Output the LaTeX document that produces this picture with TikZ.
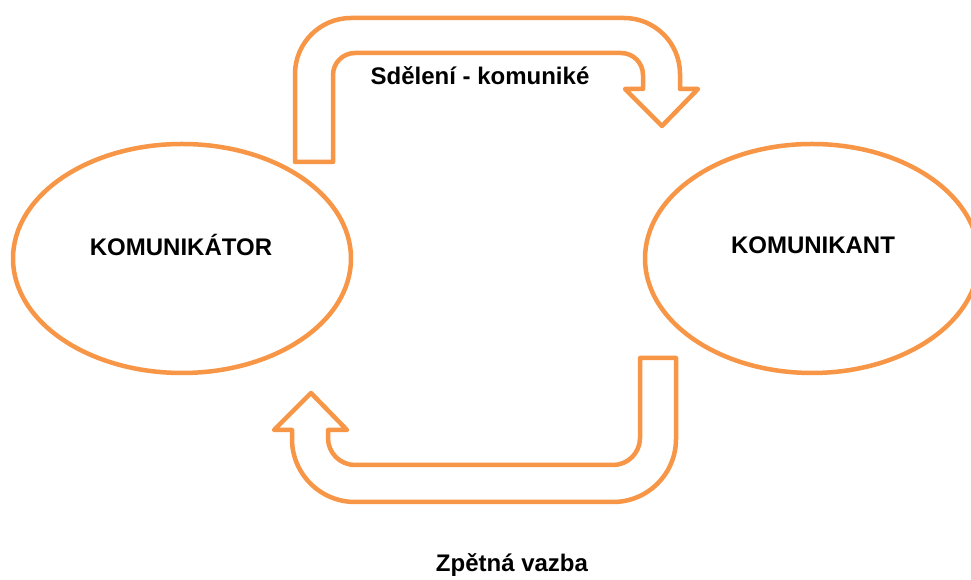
\documentclass[tikz,border=0pt]{standalone}
\usepackage{fontspec}
\setmainfont{Liberation Sans}
\usetikzlibrary{shapes.geometric}
\definecolor{orng}{HTML}{F79646}
\tikzset{
  outl/.style={draw=orng, line width=4.5pt, line join=round},
  party/.style={outl, ellipse, minimum width=338pt, minimum height=229pt, inner sep=0pt},
  lbl/.style={font=\fontsize{24}{28}\selectfont\bfseries, text=black, inner sep=0pt}
}
\begin{document}
\begin{tikzpicture}[x=1pt,y=1pt]
\clip (0,0) rectangle (971,580);
\fill[white] (0,0) rectangle (971,580);
% parties
\node[party] (kt) at (182,321.5) {};
\node[party, minimum width=334pt] (kn) at (812,321.5) {};
\node[lbl] (ktl) at (181,335) {KOMUNIKÁTOR};
\node[lbl] (knl) at (813,335) {KOMUNIKANT};
% top arrow (message)
\draw[outl] (295,418) -- (295,506) arc[start angle=180,end angle=90,radius=56]
  -- (624,562) arc[start angle=90,end angle=0,radius=56]
  -- (680,491) -- (698,491) -- (662,454) -- (625,491) -- (643,491)
  -- (643,505) arc[start angle=0,end angle=90,radius=22]
  -- (355,527) arc[start angle=90,end angle=180,radius=22]
  -- (333,418) -- cycle;
% bottom arrow (feedback)
\draw[outl] (640,222) -- (676,222) -- (676,141) arc[start angle=0,end angle=-90,radius=63]
  -- (355,78) arc[start angle=270,end angle=180,radius=63]
  -- (292,150) -- (274,150) -- (311,187) -- (347,150) -- (328,150)
  -- (328,142) arc[start angle=180,end angle=270,radius=27]
  -- (613,115) arc[start angle=270,end angle=360,radius=27]
  -- cycle;
\node[lbl] (msg) at (480,504) {Sdělení - komuniké};
\node[lbl] (fb) at (512,15) {Zpětná vazba};
\end{tikzpicture}
\end{document}
